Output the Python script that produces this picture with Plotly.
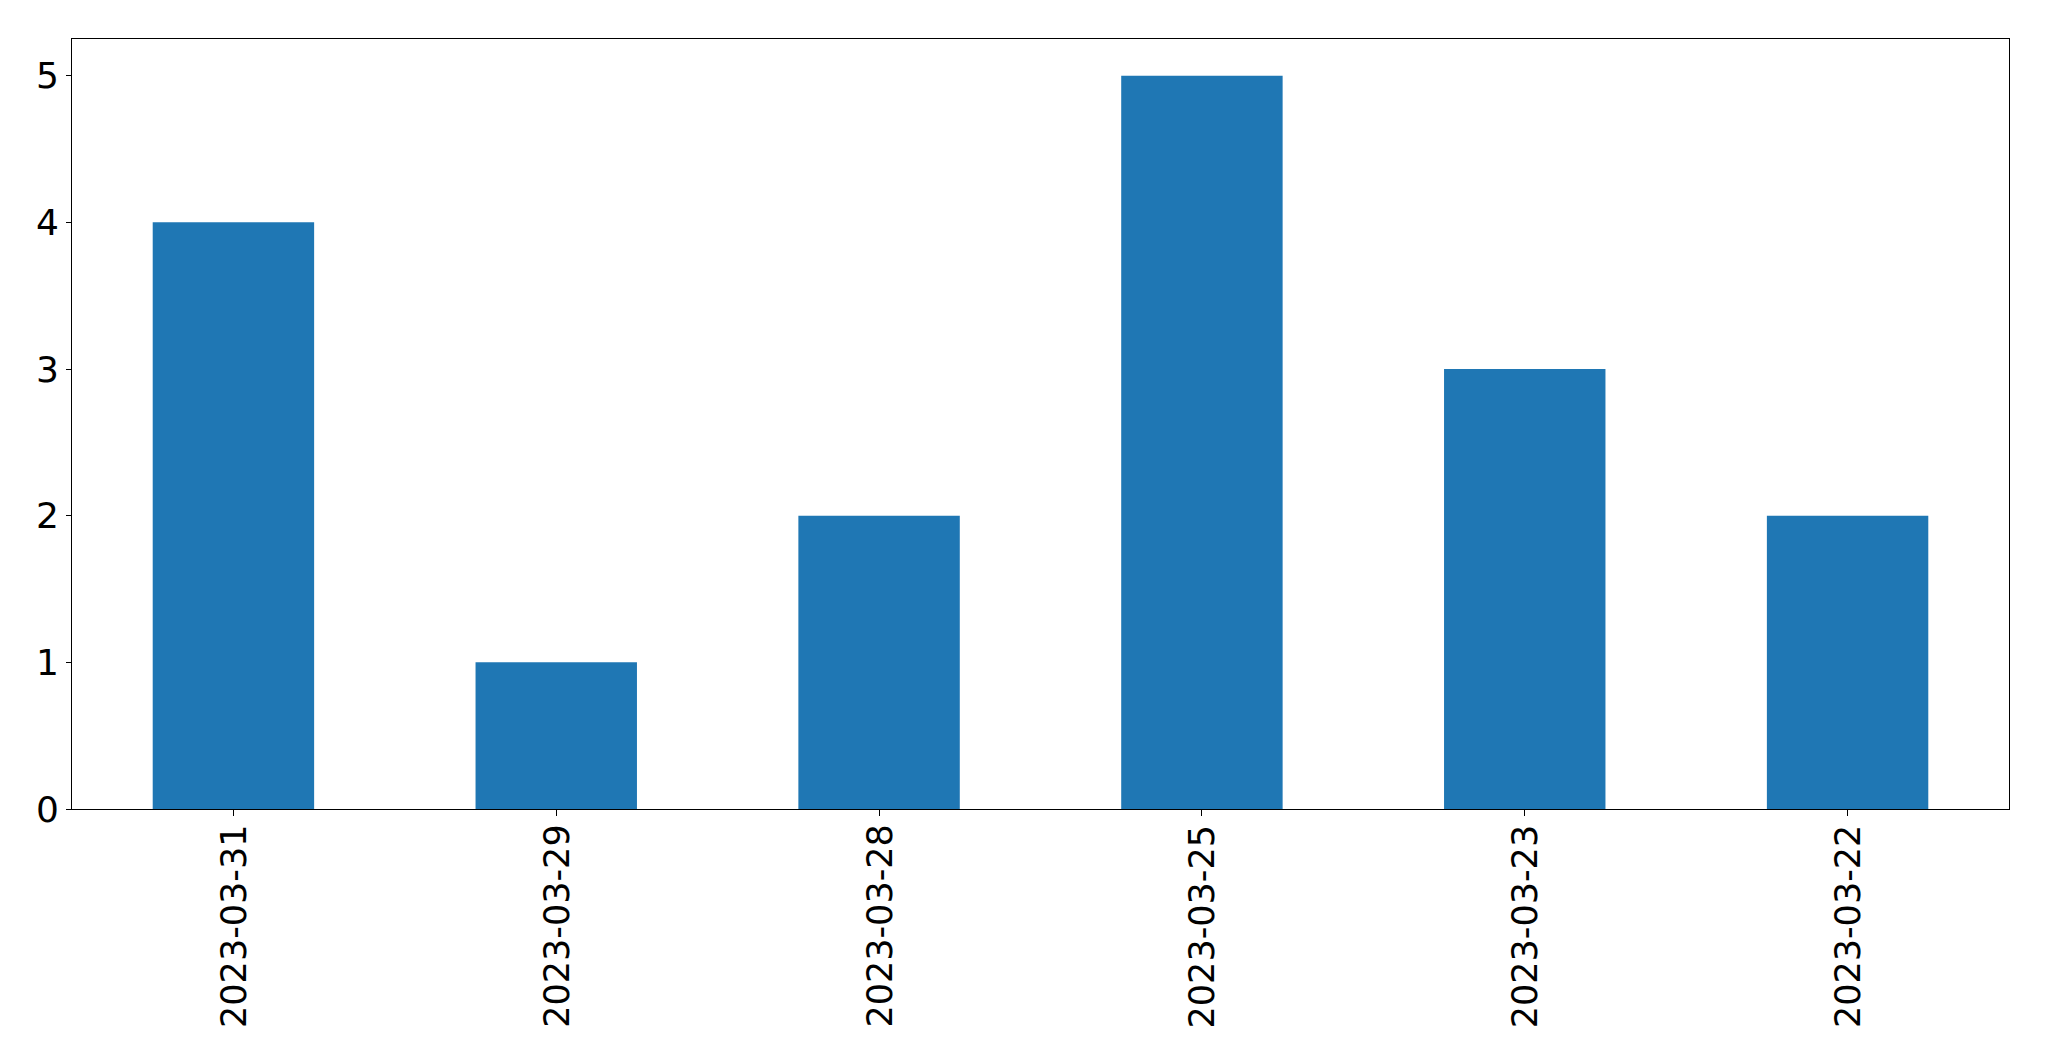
import plotly.graph_objects as go

dates = ["2023-03-31", "2023-03-29", "2023-03-28", "2023-03-25", "2023-03-23", "2023-03-22"]
counts = [4, 1, 2, 5, 3, 2]
y_ticks = [0, 1, 2, 3, 4, 5]

fig = go.Figure(go.Bar(x=dates, y=counts, marker=dict(color="#1f77b4", line=dict(width=0)), width=0.5))

fig.update_layout(
    width=2049, height=1061,
    margin=dict(l=72, r=40, t=39, b=252),
    paper_bgcolor="white", plot_bgcolor="white",
    font=dict(family="DejaVu Sans", size=35, color="black"),
    showlegend=False,
)
fig.update_xaxes(
    type="category", range=[-0.5, 5.5], showticklabels=False,
    showline=True, linecolor="black", linewidth=1, mirror=True,
    ticks="outside", ticklen=6, tickcolor="black", tickwidth=1,
    showgrid=False, zeroline=False,
)
fig.update_yaxes(
    range=[0, 5.25], tickvals=y_ticks, ticktext=[str(v) for v in y_ticks],
    tickfont=dict(size=36),
    showline=True, linecolor="black", linewidth=1, mirror=True,
    ticks="outside", ticklen=5, tickcolor="black", tickwidth=1,
    showgrid=False, zeroline=False,
)
for d in dates:
    fig.add_annotation(
        x=d, xref="x", y=0, yref="paper", text=d, textangle=-90,
        showarrow=False, xanchor="center", yanchor="top", yshift=-14,
        font=dict(family="DejaVu Sans", size=35, color="black"),
    )

fig.write_html("out.html")
